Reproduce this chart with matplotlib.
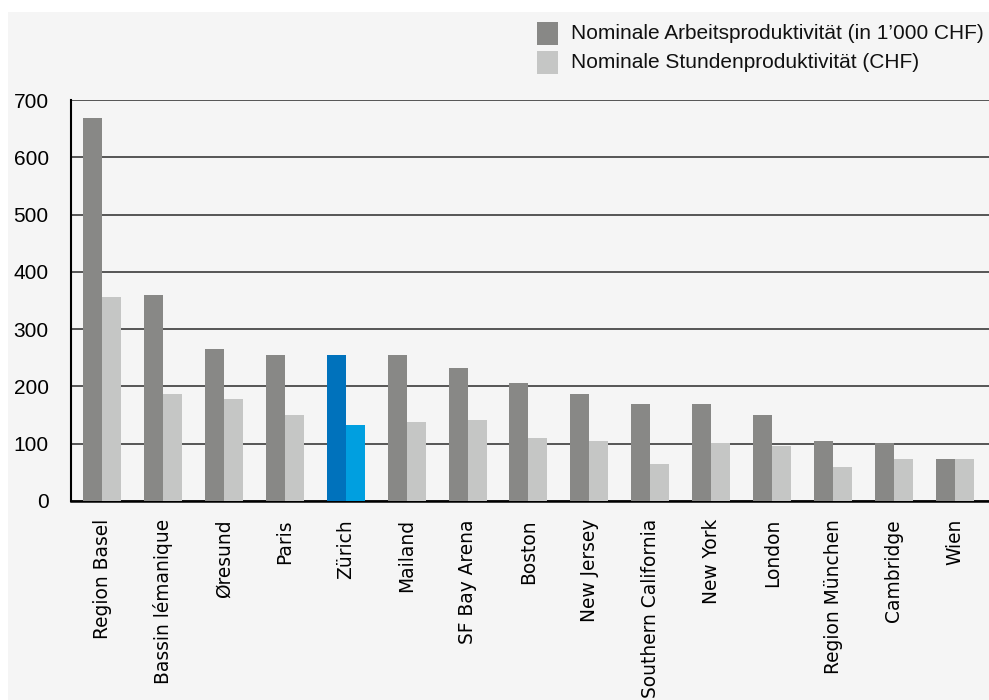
import matplotlib
matplotlib.use("Agg")
import matplotlib.pyplot as plt
from matplotlib.patches import Rectangle
import numpy as np

# data
regions = ["Region Basel", "Bassin lémanique", "Øresund", "Paris", "Zürich",
           "Mailand", "SF Bay Arena", "Boston", "New Jersey", "Southern California",
           "New York", "London", "Region München", "Cambridge", "Wien"]
arbeit = [668, 360, 265, 255, 255, 255, 232, 206, 187, 169, 169, 150, 105, 101, 73]
stunden = [356, 187, 178, 150, 133, 138, 141, 110, 105, 65, 101, 96, 59, 73, 73]
yticks = [0, 100, 200, 300, 400, 500, 600, 700]
legend_labels = ["Nominale Arbeitsproduktivität (in 1\u2019000 CHF)",
                 "Nominale Stundenproduktivität (CHF)"]

dark = "#888886"
light = "#c5c6c5"
zh_dark = "#0072bc"
zh_light = "#009fe0"
bg = "#f5f5f5"

plt.rcParams["font.family"] = ["Liberation Sans", "DejaVu Sans"]

W, H = 989, 700
fig = plt.figure(figsize=(W / 100, H / 100), dpi=100, facecolor="white")

# grey panel with a thin white border top/left
fig.patches.append(Rectangle((8 / W, 0), 1, 1 - 12 / H, transform=fig.transFigure,
                             facecolor=bg, edgecolor="none", zorder=-10))

ax = fig.add_axes([71 / W, 1 - 501 / H, (W - 71) / W, (501 - 100) / H])
ax.patch.set_alpha(0)

x = np.arange(len(regions))
bw = 0.312
c1 = [zh_dark if r == "Zürich" else dark for r in regions]
c2 = [zh_light if r == "Zürich" else light for r in regions]
ax.bar(x - bw / 2, arbeit, bw, color=c1, zorder=3)
ax.bar(x + bw / 2, stunden, bw, color=c2, zorder=3)

ax.set_xlim(-0.509, 14.56)
ax.set_ylim(0, 700)
ax.set_yticks(yticks)
ax.set_yticklabels([str(v) for v in yticks], fontsize=15)
ax.tick_params(axis="y", length=0, pad=16)
ax.yaxis.grid(True, color="#3a3a3a", linewidth=1.2, zorder=1)
ax.set_axisbelow(True)

ax.set_xticks(x)
ax.set_xticklabels(regions, rotation=90, fontsize=13.4, family="DejaVu Sans",
                   va="top", ha="center")
ax.tick_params(axis="x", length=0, pad=13)

for s in ["right", "top"]:
    ax.spines[s].set_visible(False)
ax.spines["left"].set_linewidth(1.5)
ax.spines["bottom"].set_linewidth(1.8)
ax.spines["left"].set_color("black")
ax.spines["bottom"].set_color("black")

# legend drawn by hand in the top right corner
for i, (lab, col) in enumerate(zip(legend_labels, [dark, light])):
    ytop = 22 + i * 29
    fig.patches.append(Rectangle((537 / W, 1 - (ytop + 23) / H), 21 / W, 23 / H,
                                 transform=fig.transFigure, facecolor=col,
                                 edgecolor="none", zorder=2))
    fig.text(571 / W, 1 - (ytop + 11.5) / H, lab, fontsize=15, va="center",
             ha="left", color="#111111")

fig.savefig("out.png", dpi=100, facecolor=fig.get_facecolor())
